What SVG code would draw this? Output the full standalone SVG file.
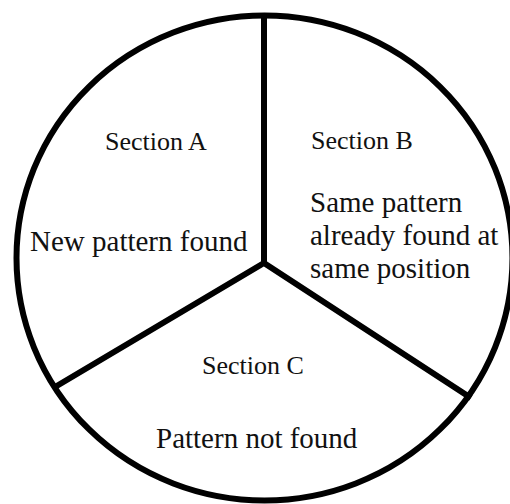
<svg xmlns="http://www.w3.org/2000/svg" width="510" height="504" viewBox="0 0 510 504">
<style>
.ln{fill:none;stroke:#000;stroke-width:6}
.h{font-family:"Liberation Serif","Times New Roman",serif;font-size:26px;fill:#111}
.b{font-family:"Liberation Serif","Times New Roman",serif;font-size:29px;fill:#111}
</style>
<rect width="510" height="504" fill="#fff"/>
<ellipse id="circle" class="ln" cx="264.5" cy="258" rx="248" ry="242.5"/>
<g id="connectors">
<path class="ln" d="M55 387 L264 263 L471 398 M264 263 V14"/>
</g>
<g id="sectionA">
<text class="h" x="105" y="150">Section A</text>
<text class="b" x="30" y="251">New pattern found</text>
</g>
<g id="sectionB">
<text class="h" x="311" y="149">Section B</text>
<text class="b" x="310" y="212">Same pattern</text>
<text class="b" x="310" y="245">already found at</text>
<text class="b" x="310" y="278">same position</text>
</g>
<g id="sectionC">
<text class="h" x="202" y="374">Section C</text>
<text class="b" x="156" y="448">Pattern not found</text>
</g>
</svg>
